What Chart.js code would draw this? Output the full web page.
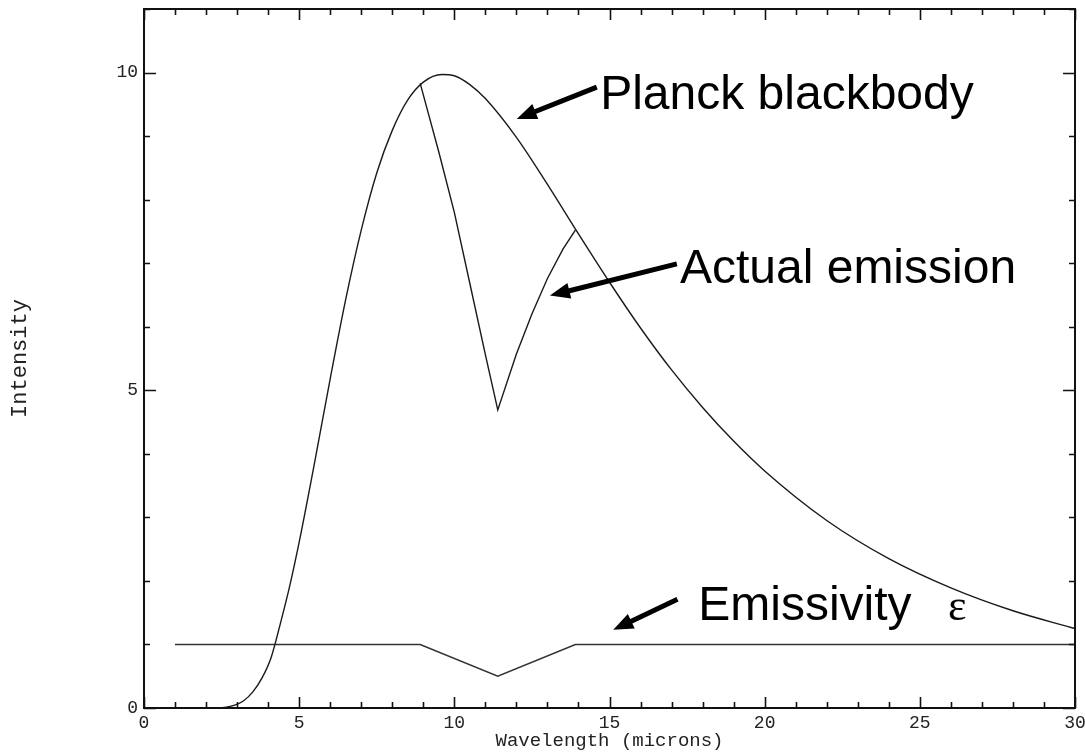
<!DOCTYPE html>
<html>
<head>
<meta charset="utf-8">
<script src="https://cdn.jsdelivr.net/npm/chart.js@4.4.1/dist/chart.umd.min.js"></script>
<style>
  html, body { margin: 0; padding: 0; background: #fff; }
  #wrap { width: 1085px; height: 755px; }
</style>
</head>
<body>
<div id="wrap"><canvas id="plot"></canvas></div>
<script>
// Planck curve, wavelength in microns
const wavelength = [2.3, 2.6, 2.9, 3.2, 3.5, 3.8, 4.1, 4.4, 4.7, 5.0, 5.5, 6.0, 6.5, 7.0, 7.5, 8.0, 8.5, 9.0, 9.6,
                    10.0, 10.5, 11.0, 12.0, 13.0, 14.0, 15.0, 16.0, 17.0, 18.0, 19.0, 20.0, 22.0, 24.0, 26.0, 28.0, 30.0];
const planck = [0, 0.01, 0.04, 0.11, 0.25, 0.47, 0.80, 1.34, 1.93, 2.61, 3.87, 5.18, 6.43, 7.52, 8.42, 9.09, 9.57, 9.85, 9.97,
                9.95, 9.81, 9.59, 8.98, 8.24, 7.46, 6.70, 5.98, 5.32, 4.73, 4.20, 3.73, 2.95, 2.35, 1.89, 1.53, 1.25];

// emission inside the absorption band
const bandWavelength = [8.9, 9.5, 10.0, 10.5, 11.0, 11.4, 12.0, 12.5, 13.0, 13.5, 13.9];
const actualEmission = [9.83, 8.75, 7.80, 6.68, 5.56, 4.69, 5.57, 6.20, 6.76, 7.22, 7.52];

// emissivity
const emisWavelength = [1.0, 8.9, 11.4, 13.9, 30.0];
const emissivity = [1.0, 1.0, 0.5, 1.0, 1.0];

const xTicksLabelled = [0, 5, 10, 15, 20, 25, 30];
const yTicksLabelled = [0, 5, 10];

// callouts: text and arrow (tail -> tip) in data units
const callouts = [
  { text: 'Planck blackbody', at: [14.70, 9.43], tail: [14.59, 9.77], tip: [12.01, 9.27] },
  { text: 'Actual emission',  at: [17.27, 6.69], tail: [17.17, 6.99], tip: [13.08, 6.49] },
  { text: 'Emissivity',       at: [17.86, 1.38], tail: [17.19, 1.71], tip: [15.12, 1.23], symbol: 'ε', symbolAt: [25.91, 1.38] }
];

const pts = (xs, ys) => xs.map((x, i) => ({ x: x, y: ys[i] }));
const monoFont = '"Liberation Mono", "DejaVu Sans Mono", monospace';

// frame on all four sides with inward tick marks
const frameTicks = {
  id: 'frameTicks',
  afterDatasetsDraw(chart) {
    const { ctx, chartArea: a, scales: { x, y } } = chart;
    ctx.save();
    ctx.strokeStyle = '#111';
    ctx.lineWidth = 2;
    ctx.strokeRect(a.left, a.top, a.right - a.left, a.bottom - a.top);
    ctx.lineWidth = 1.6;
    ctx.beginPath();
    for (let v = x.min; v <= x.max; v++) {
      const px = Math.round(x.getPixelForValue(v)) + 0.5;
      const len = v % 5 === 0 ? 11 : 6;
      ctx.moveTo(px, a.bottom); ctx.lineTo(px, a.bottom - len);
      ctx.moveTo(px, a.top); ctx.lineTo(px, a.top + len);
    }
    for (let v = y.min; v <= y.max; v++) {
      const py = Math.round(y.getPixelForValue(v)) + 0.5;
      const len = v % 5 === 0 ? 12 : 6;
      ctx.moveTo(a.left, py); ctx.lineTo(a.left + len, py);
      ctx.moveTo(a.right, py); ctx.lineTo(a.right - len, py);
    }
    ctx.stroke();
    ctx.restore();
  }
};

// labels with arrows
const calloutPlugin = {
  id: 'callouts',
  afterDatasetsDraw(chart) {
    const { ctx, scales: { x, y } } = chart;
    const P = p => [x.getPixelForValue(p[0]), y.getPixelForValue(p[1])];
    ctx.save();
    callouts.forEach(c => {
      const [tx, ty] = P(c.tail), [hx, hy] = P(c.tip);
      const ang = Math.atan2(hy - ty, hx - tx);
      const headLen = 20, headW = 8;
      const bx = hx - headLen * Math.cos(ang), by = hy - headLen * Math.sin(ang);
      ctx.strokeStyle = '#000';
      ctx.fillStyle = '#000';
      ctx.lineWidth = 5;
      ctx.beginPath();
      ctx.moveTo(tx, ty);
      ctx.lineTo(bx + 4 * Math.cos(ang), by + 4 * Math.sin(ang));
      ctx.stroke();
      ctx.beginPath();
      ctx.moveTo(hx, hy);
      ctx.lineTo(bx + headW * Math.sin(ang), by - headW * Math.cos(ang));
      ctx.lineTo(bx - headW * Math.sin(ang), by + headW * Math.cos(ang));
      ctx.closePath();
      ctx.fill();

      const [lx, ly] = P(c.at);
      ctx.font = '48px "Liberation Sans", Arial, sans-serif';
      ctx.textBaseline = 'alphabetic';
      ctx.textAlign = 'left';
      ctx.fillText(c.text, lx, ly);
      if (c.symbol) {
        const [sx, sy] = P(c.symbolAt);
        ctx.font = '44px "Liberation Serif", "Times New Roman", serif';
        ctx.fillText(c.symbol, sx, sy);
      }
    });
    ctx.restore();
  }
};

new Chart(document.getElementById('plot'), {
  type: 'line',
  data: {
    datasets: [
      { label: 'Planck', data: pts(wavelength, planck), borderColor: '#1a1a1a', borderWidth: 1.4,
        cubicInterpolationMode: 'monotone', pointRadius: 0, fill: false },
      { label: 'Actual emission', data: pts(bandWavelength, actualEmission), borderColor: '#1a1a1a', borderWidth: 1.4,
        tension: 0, pointRadius: 0, fill: false },
      { label: 'Emissivity', data: pts(emisWavelength, emissivity), borderColor: '#333', borderWidth: 1.6,
        tension: 0, pointRadius: 0, fill: false }
    ]
  },
  options: {
    responsive: true,
    maintainAspectRatio: false,
    animation: false,
    events: [],
    layout: { autoPadding: false, padding: { left: 0, right: 10, top: 9, bottom: 0 } },
    plugins: { legend: { display: false }, tooltip: { enabled: false } },
    scales: {
      x: {
        type: 'linear', min: 0, max: 30,
        afterFit(s) { s.height = 47; s.paddingLeft = 0; s.paddingRight = 0; },
        grid: { display: false, drawTicks: false },
        border: { display: false },
        ticks: {
          stepSize: 1, autoSkip: false, maxRotation: 0, padding: 4, color: '#222',
          font: { family: monoFont, size: 18 },
          callback: v => xTicksLabelled.includes(v) ? String(v) : ''
        },
        title: { display: true, text: 'Wavelength (microns)', color: '#222',
                 font: { family: monoFont, size: 19, lineHeight: 1 }, padding: { top: 0, bottom: 5 } }
      },
      y: {
        type: 'linear', min: 0, max: 11,
        afterFit(s) { s.width = 144; s.paddingTop = 0; s.paddingBottom = 0; },
        grid: { display: false, drawTicks: false },
        border: { display: false },
        ticks: {
          stepSize: 1, autoSkip: false, padding: 6, color: '#222',
          font: { family: monoFont, size: 18 },
          callback: v => yTicksLabelled.includes(v) ? String(v) : ''
        },
        title: { display: true, text: 'Intensity', color: '#222',
                 font: { family: monoFont, size: 22, lineHeight: 1 }, padding: { top: 9, bottom: 0 } }
      }
    }
  },
  plugins: [frameTicks, calloutPlugin]
});
</script>
</body>
</html>
